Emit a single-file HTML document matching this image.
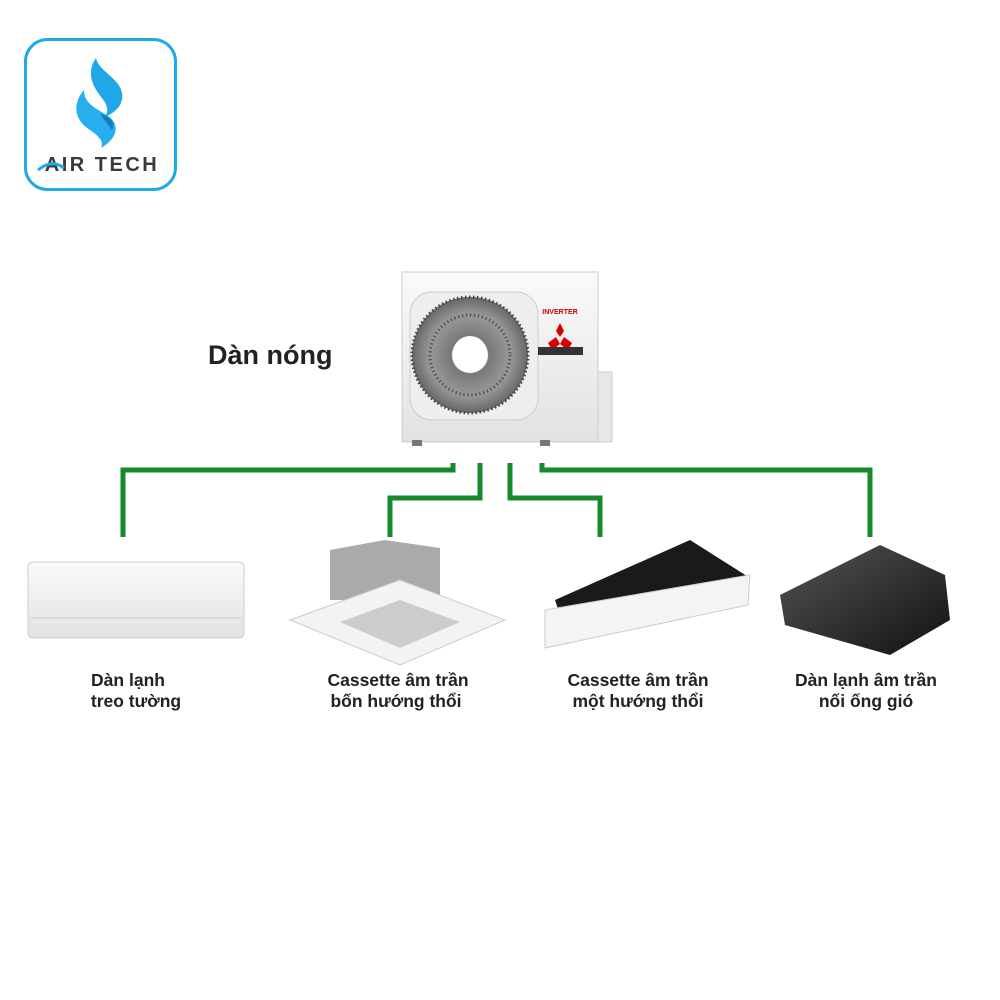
<!DOCTYPE html>
<html><head><meta charset="utf-8"><style>
html,body{margin:0;padding:0;background:#fff;width:1000px;height:1000px;overflow:hidden}
text{font-family:"Liberation Sans",Arial,sans-serif}
</style></head><body>
<svg width="1000" height="1000" viewBox="0 0 1000 1000" xmlns="http://www.w3.org/2000/svg">
<defs>
<linearGradient id="wg" x1="0" y1="0" x2="0" y2="1"><stop offset="0" stop-color="#fafafa"/><stop offset="1" stop-color="#e2e2e2"/></linearGradient>
<linearGradient id="dk" x1="0" y1="0" x2="1" y2="1"><stop offset="0" stop-color="#555"/><stop offset="1" stop-color="#111"/></linearGradient>
<radialGradient id="fan"><stop offset="0.3" stop-color="#fff"/><stop offset="0.32" stop-color="#777"/><stop offset="0.7" stop-color="#999"/><stop offset="1" stop-color="#666"/></radialGradient>
</defs>
<!-- logo -->
<rect x="25.5" y="39.5" width="150" height="150" rx="22" fill="#fff" stroke="#1ea9e8" stroke-width="3"/>
<path d="M96 58 C86 72 92 86 102 98 C110 108 108 116 102 118 C120 112 128 98 118 84 C110 74 98 68 96 58Z" fill="#1fa7e6"/>
<path d="M84 90 C72 104 74 120 90 130 C100 137 104 142 101 148 C118 138 120 124 108 116 C96 108 84 104 84 90Z" fill="#27aeee"/>
<path d="M100 114 C110 116 116 122 112 130 C108 124 104 120 100 114Z" fill="#0e7fbf"/>
<text x="102" y="171" font-size="20" font-weight="bold" fill="#3a3a3a" text-anchor="middle" letter-spacing="2.5">AIR TECH</text>
<path d="M38 170 C48 162 56 162 64 168" stroke="#1ea9e8" stroke-width="3" fill="none"/>
<!-- outdoor unit -->
<text x="208" y="364" font-size="27" font-weight="bold" fill="#222">Dàn nóng</text>
<rect x="402" y="272" width="196" height="170" fill="url(#wg)" stroke="#ccc"/>
<rect x="598" y="372" width="14" height="70" fill="#e8e8e8" stroke="#ccc"/>
<rect x="410" y="292" width="128" height="128" rx="22" fill="#eee" stroke="#ccc"/>
<circle cx="470" cy="355" r="58" fill="url(#fan)"/>
<circle cx="470" cy="355" r="58" fill="none" stroke="#444" stroke-width="3" stroke-dasharray="1.5 2.5"/>
<circle cx="470" cy="355" r="40" fill="none" stroke="#555" stroke-width="3" stroke-dasharray="1.5 2.5"/>
<circle cx="470" cy="353" r="17" fill="#fff"/>
<text x="560" y="314" font-size="7" font-weight="bold" fill="#c00" text-anchor="middle">INVERTER</text>
<path d="M560 323 L564 331 L560 337 L556 331Z M556 337 L548 343 L552 350 L560 344Z M564 337 L572 343 L568 350 L560 344Z" fill="#d00"/>
<rect x="538" y="347" width="45" height="8" fill="#333"/>
<rect x="412" y="440" width="10" height="6" fill="#777"/><rect x="540" y="440" width="10" height="6" fill="#777"/>
<!-- pipes -->
<g fill="none" stroke="#168a2b" stroke-width="5">
<path d="M123 537 V470 H453 V463"/>
<path d="M390 537 V498 H480 V463"/>
<path d="M600 537 V498 H510 V463"/>
<path d="M870 537 V470 H542 V463"/>
</g>
<!-- wall unit -->
<rect x="28" y="562" width="216" height="76" rx="5" fill="url(#wg)" stroke="#ccc"/>
<line x1="30" y1="618" x2="242" y2="618" stroke="#ccc"/>
<!-- cassette 4-way -->
<polygon points="330,550 385,540 440,548 440,600 330,600" fill="#aaa"/>
<polygon points="290,620 400,580 505,620 400,665" fill="#f3f3f3" stroke="#ccc"/>
<polygon points="340,622 400,600 460,622 400,648" fill="#ccc"/>
<!-- cassette 1-way -->
<polygon points="555,600 690,540 750,578 560,615" fill="#1a1a1a"/>
<polygon points="545,610 750,575 748,605 545,648" fill="#f4f4f4" stroke="#ccc"/>
<!-- duct -->
<polygon points="780,595 880,545 945,575 950,620 890,655 785,625" fill="url(#dk)"/>
<!-- labels -->
<g font-size="17.5" font-weight="bold" fill="#222" text-anchor="middle">
<text x="128" y="686">Dàn lạnh</text><text x="136" y="707">treo tường</text>
<text x="398" y="686">Cassette âm trần</text><text x="396" y="707">bốn hướng thổi</text>
<text x="638" y="686">Cassette âm trần</text><text x="638" y="707">một hướng thổi</text>
<text x="866" y="686">Dàn lạnh âm trần</text><text x="866" y="707">nối ống gió</text>
</g>
</svg>
</body></html>
